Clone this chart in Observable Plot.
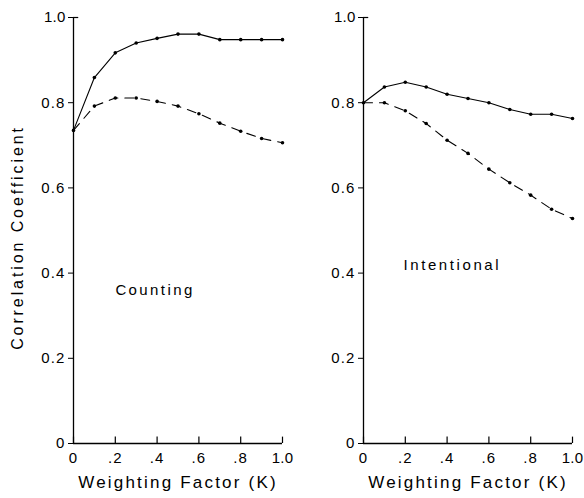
<!DOCTYPE html>
<html>
<head>
<meta charset="utf-8">
<script src="https://cdn.jsdelivr.net/npm/d3@7"></script>
<script src="https://cdn.jsdelivr.net/npm/@observablehq/plot@0.6"></script>
<style>
  html, body { margin: 0; padding: 0; background: #fff; }
  #wrap { position: relative; width: 584px; height: 498px; background: #fff; }
  #wrap > div { position: absolute; top: 0; }
  svg { overflow: visible; }
  svg text { letter-spacing: 1.1px; }
</style>
</head>
<body>
<div id="wrap"><div id="left" style="left:0"></div><div id="right" style="left:290px"></div></div>
<script>
// Weighting factor K
const K = [0, 0.1, 0.2, 0.3, 0.4, 0.5, 0.6, 0.7, 0.8, 0.9, 1.0];
// Counting panel
const countingSolid  = [0.735, 0.859, 0.917, 0.940, 0.951, 0.961, 0.961, 0.948, 0.948, 0.948, 0.948];
const countingDashed = [0.735, 0.792, 0.811, 0.811, 0.803, 0.792, 0.774, 0.752, 0.733, 0.716, 0.706];
// Intentional panel
const intentionalSolid  = [0.800, 0.837, 0.848, 0.837, 0.820, 0.810, 0.800, 0.784, 0.773, 0.773, 0.763];
const intentionalDashed = [0.800, 0.800, 0.781, 0.751, 0.712, 0.681, 0.644, 0.612, 0.583, 0.550, 0.528];
// ticks
const xTicks = [0, 0.2, 0.4, 0.6, 0.8, 1.0];
const xTickLabels = ["0", ".2", ".4", ".6", ".8", "1.0"];
const yTicks = [0, 0.2, 0.4, 0.6, 0.8, 1.0];
const yTickLabels = ["0", "0.2", "0.4", "0.6", "0.8", "1.0"];
// panel annotations (data coordinates)
const panelLabels = [
  {panel: "Counting", k: 0.39, r: 0.36},
  {panel: "Intentional", k: 0.425, r: 0.418}
];
const xTitle = "Weighting Factor (K)";
const yTitle = "Correlation Coefficient";

const FONT = "'Liberation Sans', Arial, sans-serif";
const spacing = {[xTitle]: "2.2px", [yTitle]: "2.9px", "Counting": "2.4px", "Intentional": "2.6px", "1.0": "0.2px"};

function panel(solid, dashed, label, showYTitle, marginRight) {
  const solidData = K.map((k, i) => ({k, r: solid[i]}));
  const dashedData = K.map((k, i) => ({k, r: dashed[i]}));
  const marks = [
    Plot.ruleX([0], {stroke: "black", strokeWidth: 1.3}),
    Plot.ruleY([0], {stroke: "black", strokeWidth: 1.3}),
    Plot.ruleX(xTicks, {x: d => d, y1: 0, y2: 0.015, stroke: "black", strokeWidth: 1.2}),
    Plot.ruleY([1], {x1: 0, x2: 0.025, stroke: "black", strokeWidth: 1.2}),
    Plot.line(solidData, {x: "k", y: "r", stroke: "black", strokeWidth: 1.1}),
    Plot.line(dashedData, {x: "k", y: "r", stroke: "black", strokeWidth: 1.1, strokeDasharray: "9,7"}),
    Plot.dot(solidData, {x: "k", y: "r", r: 1.8, fill: "black", stroke: "none"}),
    Plot.dot(dashedData.slice(1), {x: "k", y: "r", r: 1.8, fill: "black", stroke: "none"}),
    Plot.text([label], {x: "k", y: "r", text: "panel", fontSize: 15, fill: "black"}),
    Plot.text([xTitle], {frameAnchor: "bottom", dy: 44, fontSize: 17, fill: "black", textAnchor: "middle"})
  ];
  if (showYTitle) {
    marks.push(Plot.text([yTitle], {frameAnchor: "left", dx: -56, dy: 7, rotate: -90, textAnchor: "middle", fontSize: 16, fill: "black"}));
  }
  const svg = Plot.plot({
    width: 292,
    height: 498,
    marginLeft: 73,
    marginRight: marginRight,
    marginTop: 17,
    marginBottom: 55,
    style: {fontFamily: FONT, fontSize: "15px", background: "transparent", color: "black", overflow: "visible"},
    x: {domain: [0, 1], ticks: xTicks, tickFormat: d => xTickLabels[xTicks.indexOf(d)], tickSize: 0, tickPadding: 9, label: null},
    y: {domain: [0, 1], ticks: yTicks, tickFormat: d => yTickLabels[yTicks.indexOf(d)], tickSize: 5, tickPadding: 3, label: null},
    marks
  });
  d3.select(svg).selectAll("text").each(function() {
    const t = this.textContent;
    if (spacing[t]) this.style.letterSpacing = spacing[t];
  });
  return svg;
}

document.getElementById("left").appendChild(
  panel(countingSolid, countingDashed, panelLabels[0], true, 10));
document.getElementById("right").appendChild(
  panel(intentionalSolid, intentionalDashed, panelLabels[1], false, 10));
</script>
</body>
</html>
